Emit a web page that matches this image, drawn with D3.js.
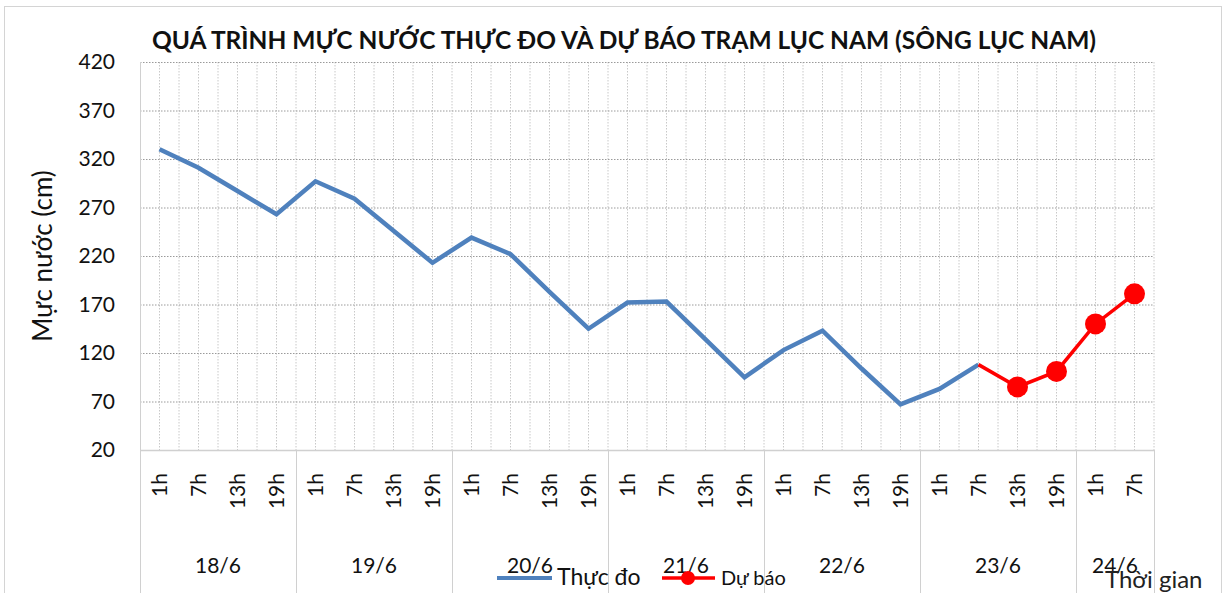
<!DOCTYPE html>
<html>
<head>
<meta charset="utf-8">
<script src="https://cdn.jsdelivr.net/npm/d3@7"></script>
<style>
  body { margin: 0; background: #fff; }
  svg { font-family: Lato, "Open Sans", sans-serif; }
</style>
</head>
<body>
<div id="chart"></div>
<script>
// data
const days = ["18/6", "19/6", "20/6", "21/6", "22/6", "23/6", "24/6"];
const hoursPerDay = [4, 4, 4, 4, 4, 4, 2];
const hours = ["1h", "7h", "13h", "19h"];
const yTicks = [20, 70, 120, 170, 220, 270, 320, 370, 420];

// Thực đo (observed) from 1h 18/6 to 7h 23/6
const observed = [330, 311, 287, 263, 297, 279, 246, 213, 239, 222, 183, 145,
                  172, 173, 134, 95, 123, 143, 104, 67, 83, 108];
// Dự báo (forecast) from 7h 23/6 to 7h 24/6
const forecastStart = 21;
const forecast = [108, 85, 101, 150, 181];

const W = 1227, H = 593;
const margin = {top: 62, left: 140, right: 73, bottom: 143};

// build category keys
let categories = [];
days.forEach(function (d, i) {
  for (let k = 0; k < hoursPerDay[i]; k++) categories.push({day: d, hour: hours[k], key: d + " " + hours[k]});
});

const svg = d3.select("#chart").append("svg")
  .attr("width", W).attr("height", H);

// outer frame
svg.append("rect")
  .attr("x", 4.5).attr("y", 6.5)
  .attr("width", 1217).attr("height", 590)
  .attr("fill", "#fff").attr("stroke", "#d4d4d4");

const x = d3.scaleBand()
  .domain(categories.map(d => d.key))
  .range([margin.left, W - margin.right])
  .padding(0);
const bw = x.bandwidth();
const cx = k => x(k) + bw / 2;

const y = d3.scaleLinear()
  .domain([20, 420])
  .range([H - margin.bottom, margin.top]);

const plotBottom = y(20), plotTop = y(420);
const plotLeft = margin.left, plotRight = W - margin.right;

// vertical minor gridlines (category centers and edges)
let vlines = [];
categories.forEach(function (c) { vlines.push(x(c.key)); vlines.push(cx(c.key)); });
vlines.push(plotRight);
svg.append("g").selectAll("line")
  .data(vlines.slice(1))
  .enter().append("line")
  .attr("x1", d => d).attr("x2", d => d)
  .attr("y1", plotTop).attr("y2", plotBottom)
  .attr("stroke", "#c8c8c8")
  .attr("stroke-width", 1)
  .attr("stroke-dasharray", "1.5,1.5");

// horizontal gridlines
svg.append("g").selectAll("line")
  .data(yTicks.slice(1))
  .enter().append("line")
  .attr("x1", plotLeft).attr("x2", plotRight)
  .attr("y1", d => y(d) + 0.5).attr("y2", d => y(d) + 0.5)
  .attr("stroke", "#9a9a9a")
  .attr("stroke-width", 1)
  .attr("stroke-dasharray", "1.5,1.5");

// axis lines
svg.append("line")
  .attr("x1", plotLeft + 0.5).attr("x2", plotLeft + 0.5)
  .attr("y1", plotTop).attr("y2", H)
  .attr("stroke", "#d0d0d0");
svg.append("line")
  .attr("x1", plotLeft).attr("x2", plotRight)
  .attr("y1", plotBottom + 0.5).attr("y2", plotBottom + 0.5)
  .attr("stroke", "#d0d0d0").attr("stroke-width", 1.5);

// day separators in category area
let dayEdges = [];
let idx = 0;
days.forEach(function (d, i) {
  dayEdges.push({day: d, start: x(categories[idx].key), end: x(categories[idx + hoursPerDay[i] - 1].key) + bw});
  idx += hoursPerDay[i];
});
svg.append("g").selectAll("line")
  .data(dayEdges)
  .enter().append("line")
  .attr("x1", d => d.end + 0.5).attr("x2", d => d.end + 0.5)
  .attr("y1", plotBottom).attr("y2", H)
  .attr("stroke", "#d0d0d0");

// y tick labels
svg.append("g").selectAll("text")
  .data(yTicks)
  .enter().append("text")
  .attr("x", 115)
  .attr("y", d => y(d))
  .attr("dy", "0.35em")
  .attr("text-anchor", "end")
  .attr("font-size", 21)
  .attr("fill", "#111")
  .text(d => d);

// hour labels
svg.append("g").selectAll("text")
  .data(categories)
  .enter().append("text")
  .attr("transform", d => "translate(" + cx(d.key) + ",473) rotate(-90)")
  .attr("text-anchor", "end")
  .attr("dy", "0.35em")
  .attr("font-size", 21)
  .attr("fill", "#111")
  .text(d => d.hour);

// day labels
svg.append("g").selectAll("text")
  .data(dayEdges)
  .enter().append("text")
  .attr("x", d => (d.start + d.end) / 2)
  .attr("y", 573)
  .attr("text-anchor", "middle")
  .attr("font-size", 21)
  .attr("fill", "#111")
  .text(d => d.day);

// lines
const line = d3.line()
  .x(d => cx(d.key))
  .y(d => y(d.value));

const obsData = observed.map((v, i) => ({key: categories[i].key, value: v}));
const fcData = forecast.map((v, i) => ({key: categories[forecastStart + i].key, value: v}));

svg.append("path")
  .datum(obsData)
  .attr("fill", "none")
  .attr("stroke", "#4F81BD")
  .attr("stroke-width", 4.5)
  .attr("stroke-linejoin", "miter")
  .attr("d", line);

svg.append("path")
  .datum(fcData)
  .attr("fill", "none")
  .attr("stroke", "#FF0000")
  .attr("stroke-width", 3.5)
  .attr("d", line);

svg.append("g").selectAll("circle")
  .data(fcData.slice(1))
  .enter().append("circle")
  .attr("cx", d => cx(d.key))
  .attr("cy", d => y(d.value))
  .attr("r", 10.5)
  .attr("fill", "#FF0000");

// title
svg.append("text")
  .attr("x", 624)
  .attr("y", 49)
  .attr("text-anchor", "middle")
  .attr("font-size", 24.5)
  .attr("font-weight", "bold")
  .attr("fill", "#111")
  .text("QUÁ TRÌNH MỰC NƯỚC THỰC ĐO VÀ DỰ BÁO TRẠM LỤC NAM (SÔNG LỤC NAM)");

// y axis title
svg.append("text")
  .attr("transform", "translate(52," + ((plotTop + plotBottom) / 2) + ") rotate(-90)")
  .attr("text-anchor", "middle")
  .attr("font-size", 26)
  .attr("fill", "#111")
  .text("Mực nước (cm)");

// legend
const lg = svg.append("g");
lg.append("line")
  .attr("x1", 497).attr("x2", 552).attr("y1", 578).attr("y2", 578)
  .attr("stroke", "#4F81BD").attr("stroke-width", 4);
lg.append("text")
  .attr("x", 557).attr("y", 585)
  .attr("font-size", 23).attr("fill", "#111")
  .text("Thực đo");
lg.append("line")
  .attr("x1", 662).attr("x2", 715).attr("y1", 578).attr("y2", 578)
  .attr("stroke", "#FF0000").attr("stroke-width", 3.5);
lg.append("circle")
  .attr("cx", 688).attr("cy", 578).attr("r", 7)
  .attr("fill", "#FF0000");
lg.append("text")
  .attr("x", 721).attr("y", 585)
  .attr("font-size", 20).attr("fill", "#111")
  .text("Dự báo");

// x axis title
svg.append("text")
  .attr("x", 1105).attr("y", 588)
  .attr("font-size", 24).attr("fill", "#222")
  .text("Thời gian");
</script>
</body>
</html>
